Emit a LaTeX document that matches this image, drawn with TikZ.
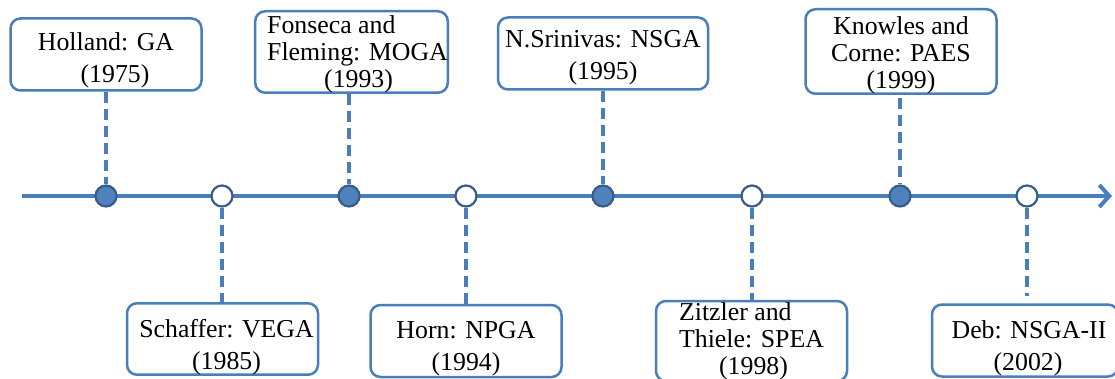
\documentclass[tikz,border=0pt]{standalone}
\usepackage{fontspec}
\setmainfont{Liberation Serif}
\usetikzlibrary{arrows.meta}
\definecolor{lineblue}{RGB}{74,126,187}
\definecolor{dotblue}{RGB}{79,129,189}
\definecolor{darkblue}{RGB}{56,93,138}
\newcommand{\lift}[1]{\rule{0pt}{#1}}
\tikzset{
	event/.style={draw=lineblue, line width=2.5pt, rounded corners=10pt, fill=white, minimum width=191pt, minimum height=72pt, inner sep=0pt, font=\fontsize{25.8}{27}\selectfont},
	full/.style={circle, draw=darkblue, fill=dotblue, line width=2.2pt, minimum size=21pt, inner sep=0pt},
	hollow/.style={circle, draw=darkblue, fill=white, line width=2.2pt, minimum size=21pt, inner sep=0pt},
	link/.style={lineblue, line width=3.2pt, dash pattern=on 11pt off 6pt}
}
\begin{document}
\begin{tikzpicture}[x=1pt, y=-1pt, line join=round]
		\useasboundingbox (0,0) rectangle (1115,379);
		\coordinate (L) at (22,196);
		\coordinate (R) at (1112,196);
		\draw[lineblue, line width=4pt, -{Straight Barb[length=10pt,width=22pt]}] (L)--(R);
		% boxes above the axis
		\node[event, align=center] (ga) at (106,54.5) {\lift{29pt}Holland: GA\\[5pt]\hspace*{18pt}(1975)};
		\node[event, align=left] (moga) at (351.5,52) {\lift{22pt}\hspace*{12pt}Fonseca and\\\hspace*{12pt}Fleming: MOGA\\\hspace*{69pt}(1993)};
		\node[event, align=center, minimum width=210pt] (nsga) at (603,53.5) {\lift{25pt}N.Srinivas: NSGA\\[5pt](1995)};
		\node[event, align=center, minimum height=79pt] (paes) at (901,51.5) {\lift{25pt}Knowles and\\Corne: PAES\\(1999)};
		% boxes below the axis
		\node[event, align=center, minimum height=70pt] (vega) at (222.5,339) {\lift{34pt}\hspace*{8pt}Schaffer: VEGA\\[5pt]\hspace*{8pt}(1985)};
		\node[event, align=center] (npga) at (466,341) {\lift{33pt}Horn: NPGA\\[5pt](1994)};
		\node[event, align=left, minimum height=80pt] (spea) at (751.5,341) {Zitzler and\\Thiele: SPEA\\\hspace*{40pt}(1998)};
		\node[event, align=center, minimum width=186pt] (nsgaii) at (1025,340.5) {\lift{34pt}\hspace*{8pt}Deb: NSGA-II\\[5pt]\hspace*{6pt}(2002)};
		% points on the axis
		\node[full] (d1) at (106,196) {};
		\node[hollow] (d2) at (222,196) {};
		\node[full] (d3) at (349,196) {};
		\node[hollow] (d4) at (466,196) {};
		\node[full] (d5) at (603,196) {};
		\node[hollow] (d6) at (752,196) {};
		\node[full] (d7) at (900,196) {};
		\node[hollow] (d8) at (1027,196) {};
		\draw[link, shorten <=3pt] (d1 |- ga.south)--(d1) (d3 |- moga.south)--(d3)
		(d5 |- nsga.south)--(d5) (d7 |- paes.south)--(d7);
		\draw[link, shorten >=7pt] (d2)--(d2 |- vega.north) (d4)--(d4 |- npga.north)
		(d6)--(d6 |- spea.north) (d8)--(d8 |- nsgaii.north);
	\end{tikzpicture}
\end{document}
